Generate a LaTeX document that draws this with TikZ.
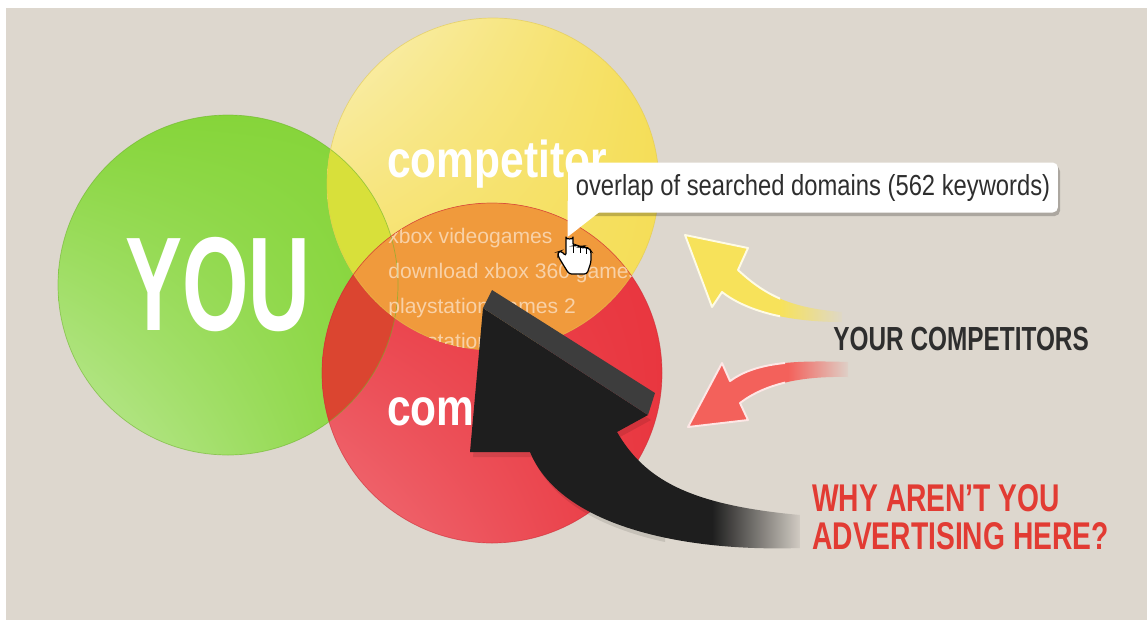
\documentclass[tikz,border=0pt]{standalone}
\usepackage{fontspec}
\setmainfont{Liberation Sans}
\newfontfamily\youfont[FakeStretch=0.64]{Liberation Sans}
\newfontfamily\headfont[FakeStretch=0.73]{Liberation Sans}
\newfontfamily\labelfont[FakeStretch=0.82]{Liberation Sans}
\usepackage{tikz}
\usetikzlibrary{shadings}

\definecolor{bgbeige}{HTML}{DDD7CE}
\definecolor{yougreen}{HTML}{86D53A}
\definecolor{youlight}{HTML}{BFE99A}
\definecolor{youedge}{HTML}{6CB52A}
\definecolor{compyellow}{HTML}{F5DE58}
\definecolor{complight}{HTML}{FAF0B8}
\definecolor{compedge}{HTML}{E2C94C}
\definecolor{advred}{HTML}{E9363F}
\definecolor{advlight}{HTML}{F07078}
\definecolor{advedge}{HTML}{CC2A34}
\definecolor{lensorange}{HTML}{F09A3C}
\definecolor{greenyellow}{HTML}{D8E03A}
\definecolor{greenred}{HTML}{DB4530}
\definecolor{arrowyellow}{HTML}{F7E25A}
\definecolor{arrowred}{HTML}{F3615B}
\definecolor{arrowblack}{HTML}{1E1E1E}
\definecolor{darktext}{HTML}{2E2E2E}
\definecolor{whyred}{HTML}{E23B33}

\tikzset{
  circlabel/.style={text=white, inner sep=0pt,
    font=\labelfont\bfseries\fontsize{29.5}{30}\selectfont},
  keyword/.style={text=white, text opacity=0.55, inner sep=0pt, anchor=base west,
    font=\fontsize{12}{12}\selectfont},
  headline/.style={inner sep=0pt, anchor=base west,
    font=\headfont\bfseries\fontsize{22}{22}\selectfont},
  tipbox/.style={fill=white, rounded corners=3pt, inner sep=0pt,
    minimum width=9.8cm, minimum height=1cm, text=darktext,
    font=\labelfont\fontsize{16.5}{17}\selectfont},
  rim/.style={draw=white!85!#1, line width=1.1pt, line join=round},
}

\begin{document}
\begin{tikzpicture}[x=0.02cm, y=-0.02cm]
    % Canvas (one unit = one pixel)
    \useasboundingbox (0,0) rectangle (1147,620);
    \fill[white] (0,0) rectangle (1147,620);
    \fill[bgbeige] (6,8) rectangle (1147,620);

    % Centres and radii of the three circles
    \coordinate (cyou) at (228,285);
    \coordinate (ccomp) at (493,184);
    \coordinate (cadv) at (492,373);
    \def\ryou{170}
    \def\rcomp{166}
    \def\radv{170}

    % Draw the circles
    \shade[upper left=yougreen, upper right=yougreen, lower right=yougreen, lower left=youlight]
        (cyou) circle[radius=\ryou];
    \shade[upper left=complight, upper right=compyellow, lower right=compyellow, lower left=compyellow]
        (ccomp) circle[radius=\rcomp];
    \shade[upper left=advred, upper right=advred, lower right=advred, lower left=advlight]
        (cadv) circle[radius=\radv];

    % Overlaps
    \begin{scope}
        \clip (cyou) circle[radius=\ryou];
        \fill[greenyellow] (ccomp) circle[radius=\rcomp];
        \fill[greenred] (cadv) circle[radius=\radv];
    \end{scope}
    \begin{scope}
        \clip (ccomp) circle[radius=\rcomp];
        \fill[lensorange] (cadv) circle[radius=\radv];
    \end{scope}

    % Rims
    \draw[youedge, opacity=0.6] (cyou) circle[radius=\ryou];
    \draw[compedge, opacity=0.6] (ccomp) circle[radius=\rcomp];
    \draw[advedge, opacity=0.6] (cadv) circle[radius=\radv];

    % Circle labels
    \node[circlabel, font=\youfont\bfseries\fontsize{76}{76}\selectfont] (you) at (218,285) {YOU};
    \node[circlabel, anchor=base west] (comptop) at (387,177) {competitor};
    \node[circlabel, anchor=base west] (compbot) at (387,425) {competitor};

    % Keywords in the shared part
    \begin{scope}
        \clip (ccomp) circle[radius=\rcomp];
        \clip (cadv) circle[radius=\radv];
        \node[keyword] (kw1) at (388,243) {xbox videogames};
        \node[keyword] (kw2) at (388,278) {download xbox 360 games};
        \node[keyword] (kw3) at (388,313) {playstation games 2};
        \node[keyword] (kw4) at (388,348) {playstation};
    \end{scope}

    % Shapes of the three arrows
    \def\blackarrow{(483,308) -- (648,415) -- (617,432)
        .. controls (645,480) and (690,505) .. (800,515) -- (800,548)
        .. controls (680,552) and (560,525) .. (530,452) -- (470,452) -- cycle}
    \def\yellowarrow{(685,235) -- (748,248) -- (738,270)
        .. controls (765,295) and (790,308) .. (842,312) -- (842,322)
        .. controls (785,322) and (745,310) .. (722,292) -- (712,307) -- cycle}
    \def\redarrow{(688,427) -- (722,363) -- (730,381)
        .. controls (755,363) and (790,360) .. (848,362) -- (848,377)
        .. controls (800,376) and (765,384) .. (740,403) -- (748,420) -- cycle}

    % Big black arrow, with a soft shadow and a bevelled top
    \begin{scope}
        \clip (440,280) rectangle (665,580);
        \fill[black, opacity=0.1, shift={(3,5)}] \blackarrow;
    \end{scope}
    \begin{scope}
        \clip \blackarrow;
        \fill[arrowblack] (460,280) rectangle (712,570);
        \shade[left color=arrowblack, right color=bgbeige] (712,480) rectangle (806,570);
    \end{scope}
    \fill[black!76] (492,290) -- (655,393) -- (648,415) -- (483,308) -- cycle;

    % Yellow arrow
    \begin{scope}
        \clip \yellowarrow;
        \fill[arrowyellow] (680,230) rectangle (780,335);
        \shade[left color=arrowyellow, right color=bgbeige] (780,295) rectangle (846,335);
    \end{scope}
    \begin{scope}
        \clip (670,220) rectangle (780,340);
        \draw[rim=arrowyellow] \yellowarrow;
    \end{scope}

    % Red arrow
    \begin{scope}
        \clip \redarrow;
        \fill[arrowred] (680,355) rectangle (788,435);
        \shade[left color=arrowred, right color=bgbeige] (788,355) rectangle (852,385);
    \end{scope}
    \begin{scope}
        \clip (670,350) rectangle (785,440);
        \draw[rim=arrowred] \redarrow;
    \end{scope}

    % Callout
    \fill[black, opacity=0.22, rounded corners=3pt] (570,166) rectangle (1060,216);
    \node[tipbox] (overlap) at (813,187.5) {overlap of searched domains (562 keywords)};
    \fill[white] (overlap.south west) ++(0,-12) -- ++(0,36) -- ++(32,-25) -- cycle;

    % Hand cursor
    \begin{scope}[shift={(557,232)}]
        \filldraw[fill=white, draw=black, line width=0.7pt, rounded corners=1.5pt]
            (9,3) to[out=-90, in=-90, looseness=1.6] (16,3) -- (16,14) -- (20,13) -- (23,15)
            -- (26,14) -- (29,16) -- (32,16) -- (34,19) -- (34,30) -- (30,42) -- (12,42)
            -- (7,34) -- (1,24) -- (1,20) -- (4,19) -- (9,24) -- cycle;
        \draw[line width=0.5pt] (16,14) -- (16,21) (23,15) -- (23,21) (29,16) -- (29,22);
    \end{scope}

    % Right hand labels
    \node[headline, text=darktext, font=\headfont\bfseries\fontsize{19}{19}\selectfont]
        (yours) at (833,350) {YOUR COMPETITORS};
    \node[headline, text=whyred] (why) at (812,511) {WHY AREN’T YOU};
    \node[headline, text=whyred] (here) at (812,549) {ADVERTISING HERE?};
\end{tikzpicture}
\end{document}
